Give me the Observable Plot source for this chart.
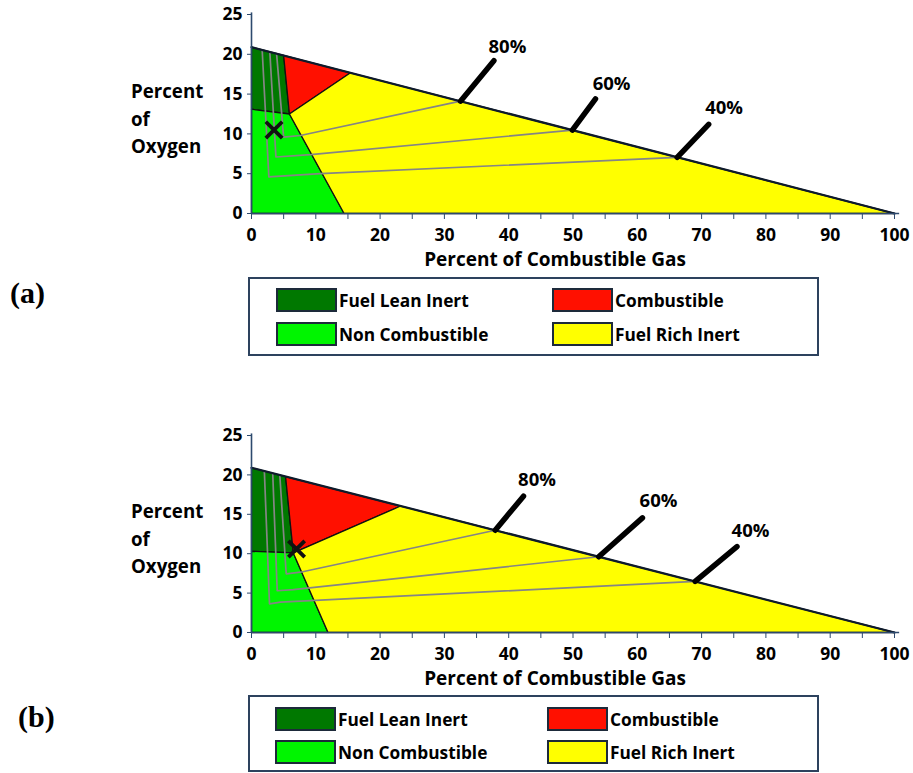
<!DOCTYPE html>
<html>
<head>
<meta charset="utf-8">
<script src="https://cdn.jsdelivr.net/npm/d3@7"></script>
<script src="https://cdn.jsdelivr.net/npm/@observablehq/plot@0.6"></script>
<style>
  html, body { margin: 0; padding: 0; background: #fff; }
  body { width: 913px; height: 773px; position: relative; overflow: hidden; font-family: "Open Sans", sans-serif; }
  .chart { position: absolute; left: 0; }
  .ylab { position: absolute; left: 131px; font: bold 18.7px "Open Sans", sans-serif; line-height: 27.5px; color: #000; }
  .xlab { position: absolute; left: 355px; width: 400px; text-align: center; font: bold 19px "Open Sans", sans-serif; line-height: 20px; color: #000; }
  .legend { position: absolute; left: 248px; width: 571px; box-sizing: border-box; border: 2px solid #2d425e; background: #fff; }
  .item { position: absolute; display: flex; align-items: center; font: bold 17.3px "Open Sans", sans-serif; color: #000; white-space: nowrap; }
  .sw { width: 57px; height: 20px; border: 2px solid #1d2a3a; margin-right: 2px; }
  .tag { position: absolute; font: bold 30px "Liberation Serif", "Times New Roman", serif; color: #000; }
</style>
</head>
<body>
<script>
// ---------- data ----------
const regions = ["Fuel Lean Inert", "Combustible", "Non Combustible", "Fuel Rich Inert"];
const regionColors = ["#007800", "#ff1000", "#00f500", "#ffff00"];
const xTicks = [0, 5, 10, 15, 20, 25, 30, 35, 40, 45, 50, 55, 60, 65, 70, 75, 80, 85, 90, 95, 100];
const yTicks = [0, 5, 10, 15, 20, 25];
const pctLabels = ["80%", "60%", "40%"];
const airLine = [[0, 20.9], [100, 0]];

// chart (a)
const aLean = [[0, 20.9], [5.0, 19.85], [5.9, 12.5], [0, 13.1]];
const aComb = [[5.0, 19.85], [15.4, 17.68], [5.9, 12.5]];
const aNon = [[0, 13.1], [5.9, 12.5], [14.4, 0], [0, 0]];
const aRich = [[5.9, 12.5], [15.4, 17.68], [100, 0], [14.4, 0]];
const aDil80 = [[3.9, 20.08], [5.0, 9.6], [7.6, 9.8], [32.5, 14.11]];
const aDil60 = [[2.85, 20.3], [3.8, 7.1], [9.2, 7.4], [49.9, 10.47]];
const aDil40 = [[1.66, 20.55], [2.7, 4.6], [10.7, 5.0], [66.2, 7.06]];
const aPctPoint = [[32.5, 14.11], [49.9, 10.47], [66.2, 7.06]];
const aPctLead = [[37.7, 19.2], [53.5, 14.4], [71.1, 11.2]];
const aPctText = [[39.8, 20.9], [56.0, 16.3], [73.5, 13.2]];
const aMark = [3.5, 10.5];

// chart (b)
const bLean = [[0, 20.9], [5.3, 19.79], [6.5, 10.1], [0, 10.3]];
const bComb = [[5.3, 19.79], [23.2, 16.05], [6.5, 10.1]];
const bNon = [[0, 10.3], [6.5, 10.1], [11.9, 0], [0, 0]];
const bRich = [[6.5, 10.1], [23.2, 16.05], [100, 0], [11.9, 0]];
const bDil80 = [[4.4, 19.98], [5.4, 7.45], [7.6, 7.65], [37.9, 12.98]];
const bDil60 = [[3.3, 20.21], [4.0, 5.3], [6.5, 5.45], [54.0, 9.61]];
const bDil40 = [[2.0, 20.48], [2.8, 3.64], [4.5, 3.85], [69.0, 6.48]];
const bPctPoint = [[37.9, 12.98], [54.0, 9.61], [69.0, 6.48]];
const bPctLead = [[42.3, 17.3], [60.8, 14.55], [75.5, 10.9]];
const bPctText = [[44.4, 19.3], [63.3, 16.7], [77.6, 12.9]];
const bMark = [7.0, 10.6];

// ---------- drawing ----------
const axisColor = "#2d4a6e";

function buildChart(cfg) {
  const polys = [];
  [cfg.lean, cfg.comb, cfg.non, cfg.rich].forEach((pts, i) =>
    pts.forEach(([x, y]) => polys.push({name: regions[i], x, y})));
  const dil = [];
  cfg.dil.forEach((pts, k) => pts.forEach(([x, y]) => dil.push({k, x, y})));
  const leads = cfg.pctPoint.map((p, i) => ({
    x1: p[0], y1: p[1], x2: cfg.pctLead[i][0], y2: cfg.pctLead[i][1],
    tx: cfg.pctText[i][0], ty: cfg.pctText[i][1], t: pctLabels[i]
  }));
  return Plot.plot({
    width: 913,
    height: 270,
    marginLeft: 251,
    marginRight: 19,
    marginTop: cfg.mt,
    marginBottom: 270 - cfg.mt - cfg.ph,
    x: {domain: [0, 100]},
    y: {domain: [0, 25]},
    color: {domain: regions, range: regionColors},
    style: {fontFamily: "Open Sans", fontSize: "17px", fontWeight: "bold", color: "#000", background: "transparent", overflow: "visible"},
    marks: [
      Plot.line(polys, {x: "x", y: "y", z: "name", fill: "name", stroke: "#111", strokeWidth: 1.3, curve: "linear-closed"}),
      Plot.line(dil, {x: "x", y: "y", z: "k", stroke: "#858585", strokeWidth: 1.7}),
      Plot.line(airLine, {x: d => d[0], y: d => d[1], stroke: "#0e1a2b", strokeWidth: 2.2}),
      Plot.ruleX([0], {y1: 0, y2: 25.2, stroke: axisColor, strokeWidth: 1.6}),
      Plot.ruleY([0], {x1: 0, x2: 100.8, stroke: axisColor, strokeWidth: 1.6}),
      Plot.axisY({ticks: yTicks, tickSize: 4, tickPadding: 5, label: null, stroke: axisColor, fontSize: 17.5}),
      Plot.axisX({ticks: xTicks, tickSize: 6, tickPadding: 9, label: null, stroke: axisColor, fontSize: 17.5,
        tickFormat: d => (d % 10 === 0 ? String(d) : "")}),
      Plot.link(leads, {x1: "x1", y1: "y1", x2: "x2", y2: "y2", stroke: "#000", strokeWidth: 5.5, strokeLinecap: "round"}),
      Plot.text(leads, {x: "tx", y: "ty", text: "t", fontSize: 18.5, fontWeight: "bold", fill: "#000"}),
      Plot.dot([cfg.mark], {x: d => d[0], y: d => d[1], symbol: "times", r: 7.5, stroke: "#111", strokeWidth: 3.8})
    ]
  });
}

function place(el, top) {
  el.classList.add("chart");
  el.style.top = top + "px";
  document.body.appendChild(el);
}

place(buildChart({lean: aLean, comb: aComb, non: aNon, rich: aRich, dil: [aDil80, aDil60, aDil40],
  pctPoint: aPctPoint, pctLead: aPctLead, pctText: aPctText, mark: aMark, mt: 14, ph: 199}), 0);
place(buildChart({lean: bLean, comb: bComb, non: bNon, rich: bRich, dil: [bDil80, bDil60, bDil40],
  pctPoint: bPctPoint, pctLead: bPctLead, pctText: bPctText, mark: bMark, mt: 15, ph: 197}), 420);

function addDiv(cls, html, styles) {
  const d = document.createElement("div");
  d.className = cls;
  d.innerHTML = html;
  Object.assign(d.style, styles);
  document.body.appendChild(d);
  return d;
}

// axis titles
addDiv("ylab", "Percent<br>of<br>Oxygen", {top: "77px"});
addDiv("ylab", "Percent<br>of<br>Oxygen", {top: "497px"});
addDiv("xlab", "Percent of Combustible Gas", {top: "249px"});
addDiv("xlab", "Percent of Combustible Gas", {top: "668px"});

// legends
function legend(top, height, rowTops, colLefts) {
  const box = addDiv("legend", "", {top: top + "px", height: height + "px"});
  const order = [[0, 0, 0], [1, 0, 1], [2, 1, 0], [3, 1, 1]];
  order.forEach(([i, r, c]) => {
    const it = document.createElement("div");
    it.className = "item";
    it.style.top = rowTops[r] + "px";
    it.style.left = colLefts[c] + "px";
    it.innerHTML = `<div class="sw" style="background:${regionColors[i]}"></div><span>${regions[i]}</span>`;
    box.appendChild(it);
  });
}
legend(277, 79, [9, 43], [26, 302]);
legend(695, 77, [10, 43], [25, 297]);

// panel tags
addDiv("tag", "(a)", {left: "10px", top: "276px"});
addDiv("tag", "(b)", {left: "18px", top: "700px"});
</script>
</body>
</html>
